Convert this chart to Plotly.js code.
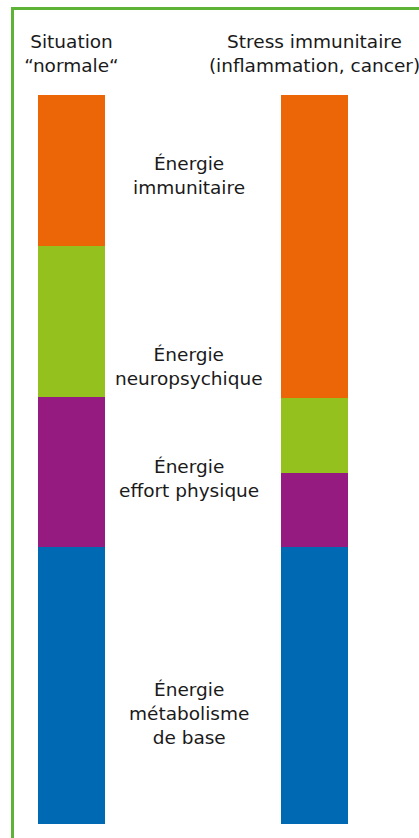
<!DOCTYPE html>
<html>
<head>
<meta charset="utf-8">
<script src="https://cdn.plot.ly/plotly-3.0.1.min.js"></script>
<style>html,body{margin:0;padding:0;background:#fff;}#chart{width:419px;height:838px;}</style>
</head>
<body>
<div id="chart"></div>
<script>
// Categories (column titles)
const categories = ["Situation<br>“normale“", "Stress immunitaire<br>(inflammation, cancer)"];
// Series (bottom to top), values in % of total energy
const seriesNames = ["Énergie<br>métabolisme<br>de base", "Énergie<br>effort physique", "Énergie<br>neuropsychique", "Énergie<br>immunitaire"];
const metabolismeBase = [38, 38];
const effortPhysique = [20.6, 10.2];
const neuropsychique = [20.7, 10.3];
const immunitaire = [20.7, 41.5];
const seriesValues = [metabolismeBase, effortPhysique, neuropsychique, immunitaire];
const seriesColors = ["#0069B4", "#951B81", "#95C11F", "#EC6608"];
const labelY = [0.152, 0.474, 0.627, 0.889];

const font = "'DejaVu Sans', sans-serif";
const traces = seriesValues.map((vals, i) => ({
  type: "bar",
  x: [0, 1],
  y: vals,
  name: seriesNames[i],
  width: 0.2757,
  marker: {color: seriesColors[i], line: {width: 0}},
  hoverinfo: "skip"
}));

const annotations = seriesNames.map((n, i) => ({
  text: n, xref: "paper", yref: "paper", x: 188.5/419, y: labelY[i],
  xanchor: "center", yanchor: "middle", showarrow: false,
  font: {family: font, size: 18.5, color: "#1a1a1a"}
}));

const layout = {
  width: 419, height: 838,
  margin: {l: 0, r: 0, t: 95, b: 14, pad: 0},
  barmode: "stack",
  bargap: 0,
  showlegend: false,
  paper_bgcolor: "#ffffff",
  plot_bgcolor: "#ffffff",
  xaxis: {
    range: [-0.2942, 1.4300], side: "top", tickmode: "array",
    tickvals: [0, 1], ticktext: categories, ticks: "", showgrid: false,
    zeroline: false, showline: false, automargin: false, fixedrange: true,
    ticklabeloverflow: "allow",
    tickfont: {family: font, size: 18.5, color: "#1a1a1a"}, ticklabelstandoff: 18
  },
  yaxis: {range: [0, 100], visible: false, fixedrange: true},
  annotations: annotations,
  shapes: [{
    type: "rect", xref: "paper", yref: "paper",
    x0: 12.5/419, x1: 1.2, y0: -0.2, y1: (824 - 8.5)/729,
    line: {color: "#5DB335", width: 3}, fillcolor: "rgba(0,0,0,0)", layer: "above"
  }]
};

Plotly.newPlot("chart", traces, layout, {displayModeBar: false, staticPlot: true});
</script>
</body>
</html>
